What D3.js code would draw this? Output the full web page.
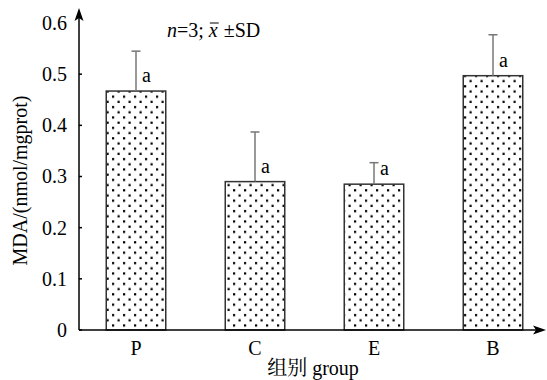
<!DOCTYPE html>
<html><head><meta charset="utf-8">
<script src="https://cdn.jsdelivr.net/npm/d3@7"></script>
<style>body{margin:0;background:#fff}svg{display:block}text{font-family:'Liberation Serif','Times New Roman',serif}</style>
</head><body>
<svg id="c" width="547" height="380"></svg>
<script>
const categories = ["P","C","E","B"];
const means = [0.467, 0.290, 0.285, 0.497];
const sds = [0.078, 0.097, 0.042, 0.080];
const sigLabels = ["a","a","a","a"];
const yTicks = [0,0.1,0.2,0.3,0.4,0.5,0.6];
const yTickLabels = ["0","0.1","0.2","0.3","0.4","0.5","0.6"];

const svg=d3.select("#c");
const FONT="'Liberation Serif','Times New Roman',serif";
const FS=20;
const axX=79, axY=330;
const x=d3.scaleBand().domain(categories).range([76.5,552.5]).paddingInner(0.5).paddingOuter(0.25);
const y=d3.scaleLinear().domain([0,0.6]).range([axY,23]);

const defs=svg.append("defs");
const pat=defs.append("pattern").attr("id","dots").attr("patternUnits","userSpaceOnUse")
  .attr("width",11).attr("height",10.4);
pat.append("rect").attr("width",11).attr("height",10.4).attr("fill","#fff");
pat.append("rect").attr("x",2).attr("y",2).attr("width",2.2).attr("height",2.2).attr("fill","#000");
pat.append("rect").attr("x",7.5).attr("y",7.2).attr("width",2.2).attr("height",2.2).attr("fill","#000");

// bars
svg.selectAll("rect.bar").data(categories).enter().append("rect").attr("class","bar")
  .attr("x",d=>x(d)).attr("width",x.bandwidth())
  .attr("y",(d,i)=>y(means[i])).attr("height",(d,i)=>axY-y(means[i]))
  .attr("fill","url(#dots)").attr("stroke","#333").attr("stroke-width",1.5);

// error bars
categories.forEach((c,i)=>{
  const cx=x(c)+x.bandwidth()/2;
  const g=svg.append("g").attr("stroke","#777").attr("stroke-width",1.5);
  g.append("line").attr("x1",cx).attr("x2",cx).attr("y1",y(means[i])).attr("y2",y(means[i]+sds[i]));
  g.append("line").attr("x1",cx-4.5).attr("x2",cx+4.5).attr("y1",y(means[i]+sds[i])).attr("y2",y(means[i]+sds[i]));
  svg.append("text").attr("x",cx+6).attr("y",y(means[i])-9).style("font-family",FONT)
    .attr("font-size",FS).attr("fill","#000").text(sigLabels[i]);
});

// y axis
const yAxis=d3.axisLeft(y).tickValues(yTicks).tickFormat((d,i)=>yTickLabels[i]).tickSize(0).tickPadding(12);
const ga=svg.append("g").attr("transform",`translate(${axX},0)`).call(yAxis);
ga.attr("font-family",null);
ga.select(".domain").remove();
ga.selectAll("text").style("font-family",FONT).attr("font-size",FS).attr("fill","#000");
svg.selectAll("line.yt").data(yTicks.slice(0,6)).enter().append("line").attr("class","yt")
  .attr("x1",axX).attr("x2",axX+3).attr("y1",d=>y(d)).attr("y2",d=>y(d)).attr("stroke","#000").attr("stroke-width",1.5);
svg.append("line").attr("x1",axX).attr("x2",axX).attr("y1",axY).attr("y2",16).attr("stroke","#000").attr("stroke-width",1.5);
svg.append("path").attr("d",`M${axX},8 L${axX+4.5},21 L${axX},18 L${axX-4.5},21 Z`).attr("fill","#000");

// x axis
svg.append("line").attr("x1",axX).attr("x2",538).attr("y1",axY).attr("y2",axY).attr("stroke","#000").attr("stroke-width",1.5);
svg.append("path").attr("d",`M546,${axY} L533,${axY-4.5} L536,${axY} L533,${axY+4.5} Z`).attr("fill","#000");
const xAxis=d3.axisBottom(x).tickSize(0).tickPadding(11);
const gx=svg.append("g").attr("transform",`translate(0,${axY})`).call(xAxis);
gx.attr("font-family",null);
gx.select(".domain").remove();
gx.selectAll("text").style("font-family",FONT).attr("font-size",FS).attr("fill","#000");

// axis titles
svg.append("text").attr("transform",`translate(27,${(axY+23)/2+4}) rotate(-90)`).attr("text-anchor","middle")
  .style("font-family",FONT).attr("font-size",FS).attr("fill","#000").text("MDA/(nmol/mgprot)");
svg.append("text").attr("x",313).attr("y",375).attr("text-anchor","middle")
  .style("font-family","'Liberation Serif','Noto Serif CJK SC','Noto Sans CJK SC',serif").attr("font-size",FS).attr("fill","#000").text("组别 group");

// annotation n=3; x̄ ±SD
const ax0=167, ay=37;
const t1=svg.append("text").attr("x",ax0).attr("y",ay).style("font-family",FONT).attr("font-size",FS).attr("fill","#000");
t1.append("tspan").attr("font-style","italic").text("n");
t1.append("tspan").text("=3;\u00a0");
const w1=t1.node().getComputedTextLength();
const t2=svg.append("text").attr("x",ax0+w1).attr("y",ay).style("font-family",FONT).attr("font-size",FS).attr("font-style","italic").attr("fill","#000").text("x");
const w2=t2.node().getComputedTextLength();
svg.append("line").attr("x1",ax0+w1+1).attr("x2",ax0+w1+w2+1).attr("y1",ay-14).attr("y2",ay-14).attr("stroke","#000").attr("stroke-width",1);
svg.append("text").attr("x",ax0+w1+w2+6).attr("y",ay).style("font-family",FONT).attr("font-size",FS).attr("fill","#000").text("±SD");
</script>
</body></html>
